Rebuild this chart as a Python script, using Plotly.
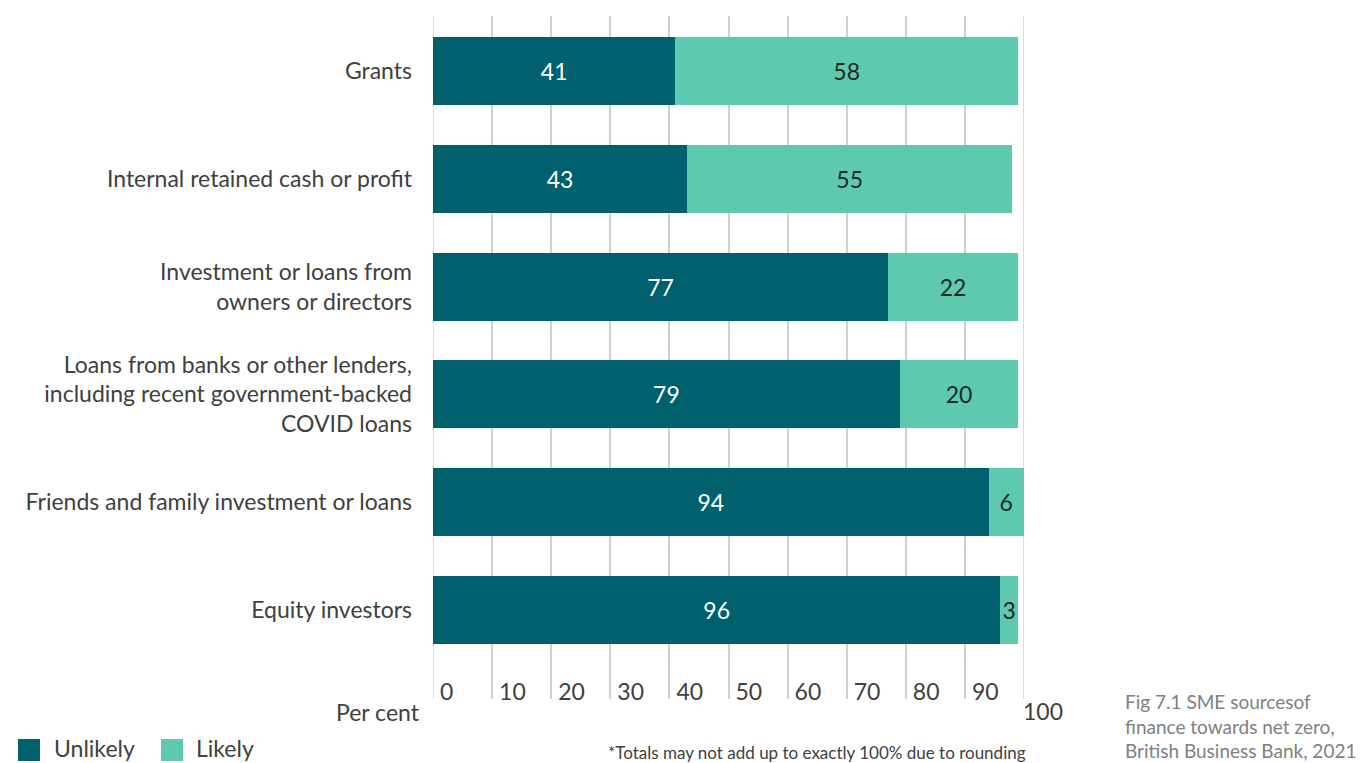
import plotly.graph_objects as go

categories = [
    "Grants",
    "Internal retained cash or profit",
    "Investment or loans from<br>owners or directors",
    "Loans from banks or other lenders,<br>including recent government-backed<br>COVID loans",
    "Friends and family investment or loans",
    "Equity investors",
]
unlikely = [41, 43, 77, 79, 94, 96]
likely = [58, 55, 22, 20, 6, 3]
tick_values = [0, 10, 20, 30, 40, 50, 60, 70, 80, 90, 100]
tick_labels = ["0", "10", "20", "30", "40", "50", "60", "70", "80", "90", ""]

C_UNLIKELY = "#00606D"
C_LIKELY = "#5DC9AF"
FONT = "Lato"
TXT = "#404040"
GRID = "#d0d0d0"

W, H = 1366, 763
L, R, T, B = 433, 1024, 16, 699


def px_x(x):
    return (x - L) / (R - L)


def px_y(y):
    return (B - y) / (B - T)


fig = go.Figure()
fig.add_trace(go.Bar(
    y=categories, x=unlikely, orientation="h", name="Unlikely",
    marker=dict(color=C_UNLIKELY, line=dict(width=0)),
    text=unlikely, textposition="inside", insidetextanchor="middle",
    textangle=0, constraintext="none",
    textfont=dict(family=FONT, size=23, color="white"),
    showlegend=False,
))
fig.add_trace(go.Bar(
    y=categories, x=likely, orientation="h", name="Likely",
    marker=dict(color=C_LIKELY, line=dict(width=0)),
    text=likely, textposition="inside", insidetextanchor="middle",
    textangle=0, constraintext="none",
    textfont=dict(family=FONT, size=23, color="#262626"),
    showlegend=False,
))

annotations = [
    dict(text="Per cent", x=px_x(422), y=px_y(712), xanchor="right", yanchor="middle",
         font=dict(family=FONT, size=23, color=TXT)),
    dict(text="100", x=px_x(1021), y=px_y(711), xanchor="left", yanchor="middle",
         font=dict(family=FONT, size=23, color=TXT)),
    dict(text="*Totals may not add up to exactly 100% due to rounding",
         x=px_x(817), y=px_y(752), xanchor="center", yanchor="middle",
         font=dict(family=FONT, size=17, color=TXT)),
    dict(text="Fig 7.1 SME sourcesof<br>finance towards net zero,<br>British Business Bank, 2021",
         x=px_x(1123), y=px_y(688), xanchor="left", yanchor="top", align="left",
         font=dict(family=FONT, size=19, color="#808080")),
    dict(text="Unlikely", x=px_x(52), y=px_y(748), xanchor="left", yanchor="middle",
         font=dict(family=FONT, size=23, color=TXT)),
    dict(text="Likely", x=px_x(194), y=px_y(748), xanchor="left", yanchor="middle",
         font=dict(family=FONT, size=23, color=TXT)),
]
for a in annotations:
    a.update(xref="paper", yref="paper", showarrow=False)

shapes = [
    dict(type="rect", xref="paper", yref="paper", x0=px_x(18), x1=px_x(40),
         y0=px_y(761), y1=px_y(739), fillcolor=C_UNLIKELY, line=dict(width=0)),
    dict(type="rect", xref="paper", yref="paper", x0=px_x(161), x1=px_x(183),
         y0=px_y(761), y1=px_y(739), fillcolor=C_LIKELY, line=dict(width=0)),
    dict(type="line", xref="x", yref="paper", x0=tick_values[-1], x1=tick_values[-1],
         y0=0, y1=1, line=dict(color=GRID, width=1.5), layer="below"),
    dict(type="line", xref="x", yref="paper", x0=tick_values[0], x1=tick_values[0],
         y0=0, y1=1, line=dict(color=GRID, width=1.5), layer="below"),
]

fig.update_layout(
    width=W, height=H,
    margin=dict(l=L, r=W - R, t=T, b=H - B, pad=0),
    barmode="stack", bargap=0.37,
    plot_bgcolor="white", paper_bgcolor="white",
    font=dict(family=FONT, size=22, color=TXT),
    annotations=annotations, shapes=shapes,
    xaxis=dict(
        range=[0, 100], tickvals=tick_values, ticktext=tick_labels,
        showgrid=True, gridcolor=GRID, gridwidth=1.5,
        zeroline=False, showline=False, ticks="",
        ticklabelposition="inside right", ticklabelshift=7,
        ticklabelstandoff=-12,
        ticklabeloverflow="allow",
        tickfont=dict(family=FONT, size=23, color=TXT),
        fixedrange=True,
    ),
    yaxis=dict(
        type="category", categoryorder="array", categoryarray=categories,
        range=[5.826, -0.51], autorange=False,
        showgrid=False, zeroline=False, showline=False, ticks="",
        ticklabelstandoff=20,
        tickfont=dict(family=FONT, size=23, color=TXT),
        fixedrange=True,
    ),
)

fig.write_html("out.html")
